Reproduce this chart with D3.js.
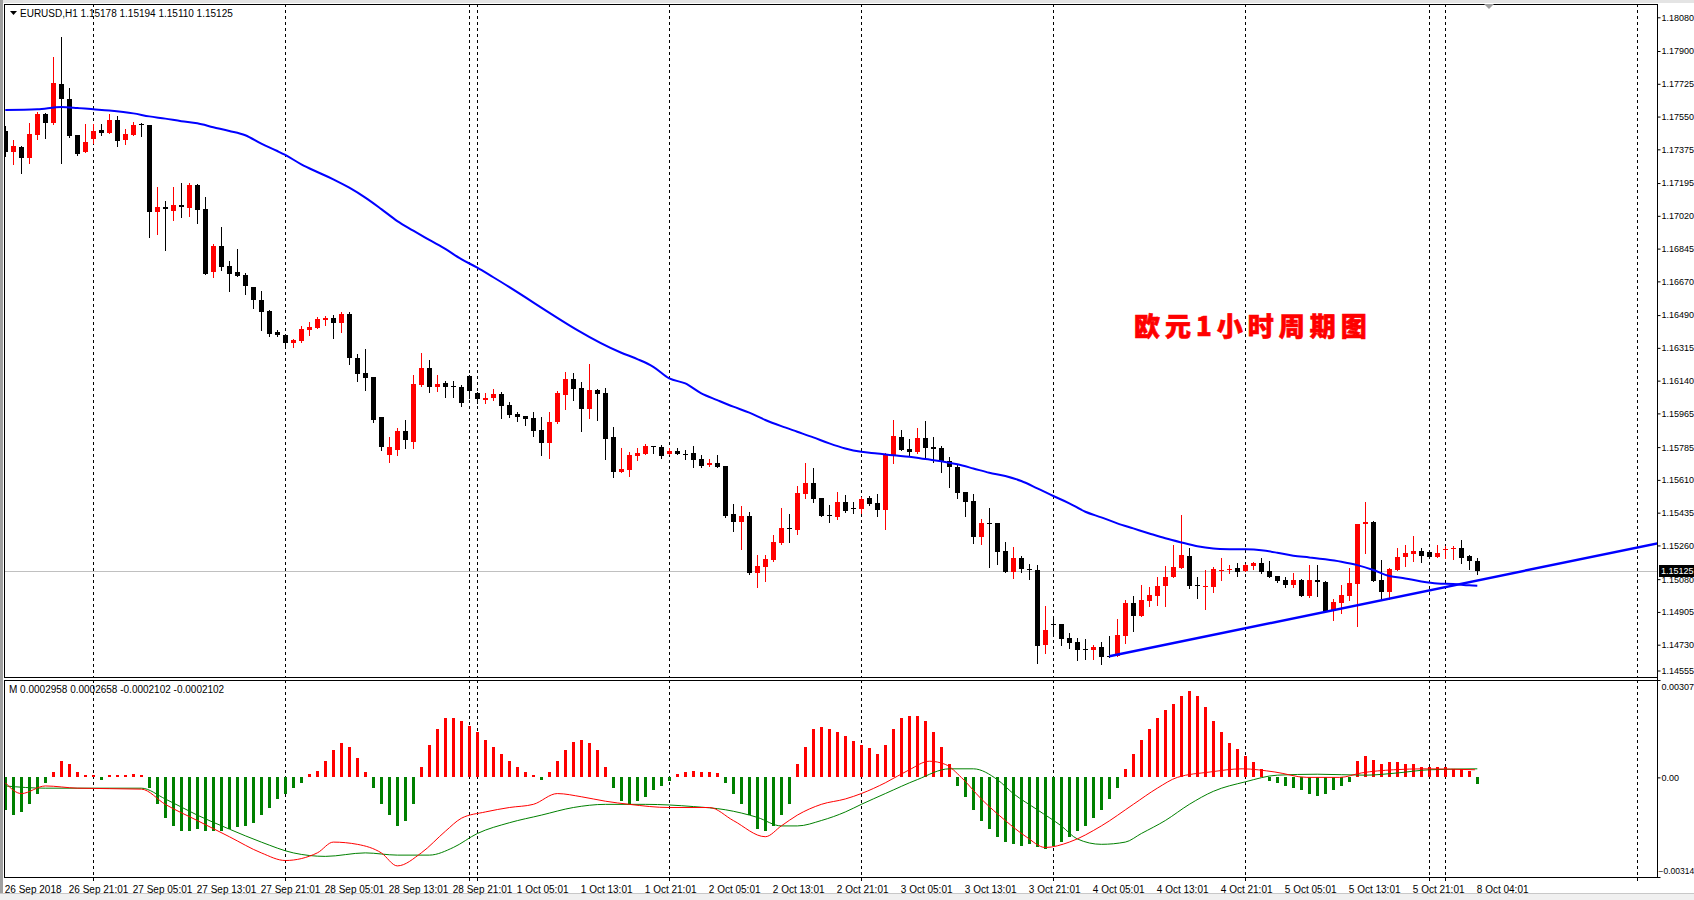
<!DOCTYPE html>
<html>
<head>
<meta charset="utf-8">
<script src="https://cdn.jsdelivr.net/npm/d3@7"></script>
<style>
    body { margin: 0; background: #ffffff; overflow: hidden; }
    svg text { font-family: Tahoma, "Liberation Sans", Arial, sans-serif; }
</style>
</head>
<body>
<script>
// EURUSD H1 bars (bar 0 = 26 Sep 2018 13:01)
var opens = [1.17473,1.17363,1.17388,1.17331,1.17453,1.17564,1.17518,1.17722,1.17644,1.17452,1.17363,1.17432,1.17477,1.17464,1.17532,1.17427,1.17453,1.17509,1.17505,1.17042,
    1.17065,1.17048,1.17078,1.17063,1.17185,1.17056,1.16718,1.16859,1.16752,1.16718,1.16704,1.16640,1.16569,1.16512,1.16398,1.16384,1.16343,1.16353,1.16412,1.16423,
    1.16465,1.16474,1.16449,1.16498,1.16263,1.16181,1.16161,1.15946,1.15743,1.15770,1.15871,1.15814,1.16117,1.16207,1.16108,1.16127,1.16111,1.16106,1.16165,1.16072,
    1.16036,1.16045,1.16067,1.16010,1.15962,1.15949,1.15940,1.15876,1.15809,1.15919,1.16065,1.16148,1.16102,1.15990,1.16090,1.16074,1.15839,1.15654,1.15664,1.15739,
    1.15750,1.15791,1.15787,1.15748,1.15762,1.15750,1.15753,1.15721,1.15689,1.15700,1.15684,1.15428,1.15387,1.15417,1.15114,1.15146,1.15182,1.15273,1.15353,1.15342,
    1.15536,1.15593,1.15513,1.15422,1.15413,1.15492,1.15458,1.15456,1.15515,1.15486,1.15449,1.15741,1.15839,1.15775,1.15759,1.15833,1.15785,1.15780,1.15711,1.15680,
    1.15545,1.15497,1.15303,1.15380,1.15380,1.15230,1.15120,1.15193,1.15134,1.15129,1.14730,1.14838,1.14840,1.14765,1.14744,1.14707,1.14703,1.14717,1.14671,1.14668,
    1.14778,1.14952,1.14885,1.14965,1.14992,1.15045,1.15089,1.15139,1.15203,1.15047,1.15040,1.15040,1.15127,1.15127,1.15139,1.15125,1.15152,1.15164,1.15123,1.15095,
    1.15075,1.15050,1.15075,1.14992,1.15075,1.15063,1.14908,1.14952,1.14990,1.15056,1.15372,1.15387,1.15075,1.15013,1.15127,1.15198,1.15216,1.15228,1.15225,1.15196,
    1.15239,1.15239,1.15244,1.15203,1.15178];
var highs = [1.17501,1.17425,1.17391,1.17516,1.17573,1.17567,1.17868,1.17975,1.17703,1.17452,1.17510,1.17510,1.17510,1.17564,1.17553,1.17484,1.17521,1.17516,1.17505,1.17174,
    1.17099,1.17174,1.17195,1.17195,1.17188,1.17121,1.16870,1.16960,1.16779,1.16843,1.16715,1.16640,1.16619,1.16515,1.16410,1.16388,1.16364,1.16432,1.16455,1.16478,
    1.16487,1.16492,1.16508,1.16508,1.16282,1.16309,1.16161,1.15946,1.15840,1.15887,1.15930,1.16170,1.16288,1.16250,1.16170,1.16138,1.16140,1.16117,1.16170,1.16081,
    1.16076,1.16094,1.16077,1.16024,1.15974,1.15951,1.15972,1.15944,1.15972,1.16083,1.16186,1.16181,1.16132,1.16229,1.16097,1.16100,1.15890,1.15780,1.15759,1.15780,
    1.15800,1.15791,1.15796,1.15778,1.15780,1.15769,1.15793,1.15741,1.15721,1.15741,1.15684,1.15481,1.15470,1.15438,1.15209,1.15209,1.15316,1.15461,1.15428,1.15575,
    1.15700,1.15673,1.15513,1.15476,1.15545,1.15529,1.15492,1.15520,1.15526,1.15533,1.15752,1.15930,1.15876,1.15828,1.15887,1.15924,1.15837,1.15789,1.15730,1.15689,
    1.15545,1.15534,1.15399,1.15460,1.15380,1.15278,1.15250,1.15203,1.15159,1.15154,1.14936,1.14879,1.14840,1.14794,1.14764,1.14762,1.14730,1.14744,1.14778,1.14867,
    1.14968,1.14990,1.15049,1.15040,1.15089,1.15150,1.15262,1.15424,1.15248,1.15091,1.15129,1.15146,1.15191,1.15155,1.15164,1.15161,1.15170,1.15193,1.15177,1.15095,
    1.15089,1.15113,1.15082,1.15154,1.15154,1.15068,1.14976,1.15047,1.15137,1.15374,1.15492,1.15390,1.15182,1.15141,1.15244,1.15262,1.15310,1.15244,1.15235,1.15260,
    1.15259,1.15255,1.15287,1.15207,1.15194];
var lows = [1.17341,1.17295,1.17251,1.17304,1.17432,1.17437,1.17512,1.17304,1.17443,1.17347,1.17363,1.17407,1.17453,1.17464,1.17395,1.17405,1.17453,1.17448,1.16909,1.16921,
    1.16839,1.17000,1.17014,1.17021,1.16984,1.16707,1.16695,1.16731,1.16620,1.16700,1.16604,1.16530,1.16412,1.16380,1.16377,1.16316,1.16322,1.16348,1.16385,1.16423,
    1.16439,1.16369,1.16398,1.16227,1.16140,1.16088,1.15921,1.15770,1.15706,1.15743,1.15780,1.15780,1.16111,1.16081,1.16085,1.16054,1.16054,1.16006,1.16049,1.16022,
    1.16019,1.16036,1.15942,1.15947,1.15926,1.15901,1.15846,1.15744,1.15728,1.15915,1.15990,1.16038,1.15873,1.15942,1.15930,1.15723,1.15627,1.15654,1.15632,1.15714,
    1.15750,1.15755,1.15725,1.15748,1.15750,1.15719,1.15679,1.15680,1.15686,1.15680,1.15413,1.15339,1.15241,1.15109,1.15040,1.15072,1.15178,1.15269,1.15280,1.15323,
    1.15513,1.15494,1.15419,1.15387,1.15403,1.15438,1.15431,1.15431,1.15476,1.15419,1.15348,1.15702,1.15771,1.15743,1.15755,1.15727,1.15705,1.15654,1.15574,1.15515,
    1.15419,1.15274,1.15269,1.15146,1.15161,1.15120,1.15088,1.15116,1.15082,1.14634,1.14687,1.14776,1.14728,1.14714,1.14646,1.14652,1.14655,1.14625,1.14662,1.14668,
    1.14741,1.14805,1.14885,1.14938,1.14942,1.14938,1.15089,1.15139,1.15034,1.14981,1.14919,1.15011,1.15073,1.15113,1.15098,1.15121,1.15134,1.15113,1.15093,1.15066,
    1.15040,1.15040,1.14992,1.14984,1.14992,1.14906,1.14862,1.14901,1.14970,1.14831,1.15221,1.15070,1.14968,1.14974,1.15127,1.15152,1.15177,1.15170,1.15191,1.15196,
    1.15194,1.15189,1.15168,1.15136,1.15110];
var closes = [1.17363,1.17393,1.17331,1.17457,1.17564,1.17518,1.17729,1.17646,1.17448,1.17352,1.17414,1.17473,1.17464,1.17532,1.17421,1.17457,1.17505,1.17507,1.17042,1.17065,
    1.17055,1.17078,1.17065,1.17185,1.17053,1.16711,1.16859,1.16749,1.16711,1.16700,1.16644,1.16569,1.16508,1.16389,1.16382,1.16343,1.16357,1.16416,1.16426,1.16469,
    1.16474,1.16449,1.16498,1.16263,1.16177,1.16156,1.15930,1.15785,1.15785,1.15871,1.15823,1.16122,1.16207,1.16108,1.16122,1.16108,1.16104,1.16022,1.16087,1.16040,
    1.16045,1.16069,1.16006,1.15956,1.15947,1.15937,1.15873,1.15809,1.15919,1.16076,1.16148,1.16097,1.15990,1.16090,1.16067,1.15830,1.15654,1.15668,1.15743,1.15753,
    1.15791,1.15784,1.15739,1.15764,1.15750,1.15746,1.15718,1.15684,1.15700,1.15680,1.15417,1.15387,1.15417,1.15114,1.15150,1.15189,1.15278,1.15353,1.15349,1.15540,
    1.15593,1.15510,1.15419,1.15415,1.15492,1.15446,1.15453,1.15508,1.15481,1.15449,1.15744,1.15844,1.15771,1.15760,1.15833,1.15780,1.15776,1.15705,1.15677,1.15542,
    1.15494,1.15303,1.15380,1.15376,1.15226,1.15120,1.15193,1.15134,1.15129,1.14725,1.14808,1.14833,1.14762,1.14740,1.14703,1.14703,1.14717,1.14666,1.14668,1.14781,
    1.14952,1.14885,1.14968,1.14995,1.15043,1.15091,1.15145,1.15209,1.15043,1.15043,1.15043,1.15132,1.15130,1.15136,1.15120,1.15154,1.15164,1.15120,1.15093,1.15072,
    1.15050,1.15075,1.14992,1.15075,1.15063,1.14906,1.14956,1.14995,1.15059,1.15374,1.15387,1.15070,1.15013,1.15134,1.15196,1.15219,1.15230,1.15205,1.15196,1.15218,
    1.15242,1.15246,1.15194,1.15178,1.15125];

// moving average (blue), sampled at bar indexes
var maIdx = [0,4,7,9,11,13,16,18,20,22,24,26,28,30,32,34,35,37,39,41,43,45,47,49,51,53,55,57,59,61,
    77,79,81,83,85,87,89,91,93,95,97,99,101,103,105,107,109,111,113,115,117,119,121,123,
    125,127,129,131,133,135,137,139,141,143,145,147,149,151,153,155,157,159,161,163,165,167,169,171,173,175,177,179,181,183,184];
var maVals = [1.17585,1.17589,1.17601,1.17596,1.17589,1.17582,1.17567,1.17551,1.17539,1.17525,1.17514,1.17493,1.17473,1.17450,1.17405,1.17366,1.17345,1.17295,1.17254,1.17215,
    1.17170,1.17117,1.17056,1.16992,1.16941,1.16891,1.16843,1.16789,1.16743,1.16692,
    1.16289,1.16255,1.16214,1.16152,1.16125,1.16072,1.16036,1.16001,1.15969,1.15930,1.15897,1.15867,1.15837,1.15805,1.15778,1.15760,1.15751,1.15741,1.15734,1.15721,
    1.15710,1.15693,1.15671,1.15648,
    1.15631,1.15604,1.15565,1.15524,1.15485,1.15440,1.15410,1.15378,1.15351,1.15324,1.15298,1.15276,1.15256,1.15244,1.15240,1.15239,1.15234,1.15221,1.15205,1.15196,
    1.15186,1.15173,1.15155,1.15129,1.15097,1.15084,1.15068,1.15057,1.15054,1.15047,1.15045];

// hand drawn trend line
var trendIdx = [138, 206.6];
var trendVals = [1.14668, 1.15272];

// MACD pane: histogram per bar, and the two signal lines
var macdHist = [-0.00102,-0.00119,-0.00109,-0.00085,-0.00051,-0.00017,0.00017,0.00051,0.00041,0.00017,0.00007,0.00007,-0.00007,0.00007,0.00007,0.00007,0.0001,0.00007,-0.00034,-0.00085,
    -0.00129,-0.00153,-0.0017,-0.0017,-0.00163,-0.0017,-0.0017,-0.0017,-0.00163,-0.00157,-0.00153,-0.00143,-0.00119,-0.00095,-0.00068,-0.00051,-0.00034,-0.00017,0.0001,0.0002,
    0.00051,0.00085,0.00109,0.00095,0.00061,0.00017,-0.00034,-0.00085,-0.00119,-0.00153,-0.00136,-0.00085,0.00034,0.00102,0.00153,0.00187,0.00187,0.00177,0.00163,0.00143,
    0.00119,0.00095,0.00075,0.00051,0.00034,0.00017,0.00007,-0.00007,0.00017,0.00051,0.00085,0.00112,0.00119,0.00109,0.00085,0.00034,-0.00034,-0.00075,-0.00085,-0.00075,
    -0.00061,-0.00041,-0.00027,-0.0001,0.0001,0.00017,0.0002,0.00017,0.00017,0.00014,-0.00017,-0.00051,-0.00085,-0.00119,-0.00163,-0.0017,-0.00153,-0.00119,-0.00085,0.00041,
    0.00095,0.00153,0.0016,0.00153,0.00143,0.00129,0.00116,0.00102,0.00092,0.00075,0.00102,0.00153,0.00187,0.00194,0.00194,0.00177,0.00143,0.00095,0.00041,-0.00027,
    -0.00061,-0.00102,-0.00136,-0.00163,-0.00187,-0.00204,-0.00211,-0.00215,-0.00211,-0.00221,-0.00225,-0.00215,-0.00204,-0.00187,-0.0017,-0.00153,-0.00129,-0.00102,-0.00068,-0.00034,
    0.00027,0.00075,0.00119,0.00153,0.00187,0.00211,0.00232,0.00255,0.00272,0.00255,0.00221,0.00177,0.00143,0.00109,0.00089,0.00068,0.00048,0.00027,-0.0001,-0.00017,
    -0.00027,-0.00034,-0.00041,-0.00051,-0.00058,-0.00051,-0.00041,-0.00027,-0.00014,0.00051,0.00068,0.00054,0.00041,0.00048,0.00048,0.00041,0.00041,0.00034,0.00034,0.00034,
    0.00034,0.00027,0.00027,0.0002,-0.0002];
var redIdx = [0,2,5,9,17,20,24,28,32,35,39,41,44,47,49,52,55,57,60,63,66,69,72,75,78,83,88,91,95,97,99,102,105,107,110,113,115.5,117.5,119.5,122,125,127.6,130,133,137,141,144,146.5,150.6,154.6,158.7,162.7,166.8,169.5,173.5,177.6,183.7];
var redVals = [-0.00017,-0.00051,-0.00027,-0.00034,-0.00037,-0.00085,-0.00136,-0.00187,-0.00238,-0.00262,-0.00238,-0.00204,-0.00211,-0.00238,-0.00279,-0.00238,-0.0017,-0.00129,-0.00109,-0.00095,
    -0.00085,-0.00051,-0.00061,-0.00075,-0.00085,-0.00095,-0.00095,-0.00136,-0.00187,-0.00153,-0.00119,-0.00085,-0.00068,-0.00051,-0.00017,0.00024,0.00051,0.00041,0,-0.00068,
    -0.00136,-0.00187,-0.00221,-0.00204,-0.00153,-0.00085,-0.00034,0,0.00017,0.00027,0.00017,0,0,0.00014,0.00024,0.00027,0.00024];
var greenIdx = [0,5,17,20,24,28,32,36,40,45,49,53,56,59,63,67,71,75,80,86,90,94,97,99,102,105,107,110,114,118,121,124,126,129,132,134,137,140,142,145,148,151,155,159,164,170,174,178,184];
var greenVals = [-0.00027,-0.00034,-0.00034,-0.00068,-0.00119,-0.00163,-0.00204,-0.00238,-0.00249,-0.00238,-0.00245,-0.00245,-0.00221,-0.00177,-0.00143,-0.00119,-0.00095,-0.00085,-0.00085,-0.00092,
    -0.00102,-0.00126,-0.00153,-0.00153,-0.00136,-0.00109,-0.00085,-0.00051,-0.00007,0.00027,0.00027,-0.00007,-0.00051,-0.00102,-0.00153,-0.00194,-0.00211,-0.00204,-0.00177,-0.00136,
    -0.00085,-0.00044,-0.00014,0.00007,0.0001,0.00007,0.00014,0.00024,0.00027];

// axis labels
var priceTicks = [1.18080,1.17900,1.17725,1.17550,1.17375,1.17195,1.17020,1.16845,1.16670,1.16490,1.16315,1.16140,1.15965,1.15785,1.15610,1.15435,1.15260,1.15080,1.14905,1.14730,1.14555];
var macdTicks = [0.00307, 0, -0.00314];
var timeIdx = [0,8,16,24,32,40,48,56,64,72,80,88,96,104,112,120,128,136,144,152,160,168,176,184];
var timeLabels = ["26 Sep 2018","26 Sep 21:01","27 Sep 05:01","27 Sep 13:01","27 Sep 21:01","28 Sep 05:01","28 Sep 13:01","28 Sep 21:01",
    "1 Oct 05:01","1 Oct 13:01","1 Oct 21:01","2 Oct 05:01","2 Oct 13:01","2 Oct 21:01","3 Oct 05:01","3 Oct 13:01","3 Oct 21:01",
    "4 Oct 05:01","4 Oct 13:01","4 Oct 21:01","5 Oct 05:01","5 Oct 13:01","5 Oct 21:01","8 Oct 04:01"];
var gridIdx = [11,35,58,59,83,107,131,155,178,180,204];

var lastBid = 1.15125;

function init() {
    var width = 1694;
    var height = 900;
    var left = 4, right = 1657;
    var mainTop = 4, mainBottom = 677;
    var macdTop = 680, macdBottom = 877;
    var axisFont = "Tahoma, 'Liberation Sans', Arial, sans-serif";

    var svg = d3.select("body").append("svg")
        .attr("width", width)
        .attr("height", height);

    // window frame
    svg.append("rect").attr("x", 0).attr("y", 0).attr("width", width).attr("height", 3).attr("fill", "#e4e4e4");
    svg.append("rect").attr("x", 0).attr("y", 0).attr("width", 3).attr("height", height).attr("fill", "#a0a0a0");
    svg.append("rect").attr("x", 0).attr("y", 893).attr("width", width).attr("height", 7).attr("fill", "#f0f0f0");
    svg.append("line").attr("x1", 0).attr("x2", width).attr("y1", 893.5).attr("y2", 893.5).attr("stroke", "#c8c8c8");

    // scales: one bar every 8 px
    var x = d3.scaleLinear().domain([0, 184]).range([5.3, 1477.3]);
    var y = d3.scaleLinear().domain([1.14730, 1.18080]).range([644.7, 17.3]);
    var my = d3.scaleLinear().domain([-0.00314, 0.00307]).range([macdBottom, macdTop]);

    svg.append("clipPath").attr("id", "mainClip").append("rect")
        .attr("x", left).attr("y", mainTop).attr("width", right - left).attr("height", mainBottom - mainTop);
    svg.append("clipPath").attr("id", "macdClip").append("rect")
        .attr("x", left).attr("y", macdTop).attr("width", right - left).attr("height", macdBottom - macdTop);

    // dashed vertical grid in both panes
    [[mainTop, mainBottom], [macdTop, macdBottom]].forEach(function(p) {
        svg.append("g").selectAll("line")
            .data(gridIdx)
            .enter().append("line")
            .attr("x1", function(d) { return Math.round(x(d)) + 0.5; })
            .attr("x2", function(d) { return Math.round(x(d)) + 0.5; })
            .attr("y1", p[0]).attr("y2", p[1])
            .attr("stroke", "#000").attr("stroke-dasharray", "3,3");
    });
    // small ticks under the lower pane
    svg.append("g").selectAll("line")
        .data(gridIdx)
        .enter().append("line")
        .attr("x1", function(d) { return Math.round(x(d)) + 0.5; })
        .attr("x2", function(d) { return Math.round(x(d)) + 0.5; })
        .attr("y1", macdBottom).attr("y2", macdBottom + 4)
        .attr("stroke", "#000");

    var main = svg.append("g").attr("clip-path", "url(#mainClip)");

    // bid line
    main.append("line")
        .attr("x1", left).attr("x2", right)
        .attr("y1", Math.round(y(lastBid)) + 0.5).attr("y2", Math.round(y(lastBid)) + 0.5)
        .attr("stroke", "#c0c0c0");

    // candles
    var bars = d3.range(opens.length);
    var candle = main.append("g").selectAll("g")
        .data(bars)
        .enter().append("g")
        .attr("fill", function(i) { return closes[i] > opens[i] ? "#ff0000" : "#000000"; })
        .attr("stroke", function(i) { return closes[i] > opens[i] ? "#ff0000" : "#000000"; });

    candle.append("line")
        .attr("x1", function(i) { return Math.round(x(i)) + 0.5; })
        .attr("x2", function(i) { return Math.round(x(i)) + 0.5; })
        .attr("y1", function(i) { return Math.round(y(highs[i])); })
        .attr("y2", function(i) { return Math.round(y(lows[i])) + 1; })
        .attr("stroke-width", 1);

    candle.append("rect")
        .attr("x", function(i) { return Math.round(x(i)) - 2; })
        .attr("y", function(i) { return Math.round(y(Math.max(opens[i], closes[i]))); })
        .attr("width", 5)
        .attr("height", function(i) {
            return Math.max(1, Math.round(y(Math.min(opens[i], closes[i]))) - Math.round(y(Math.max(opens[i], closes[i]))));
        })
        .attr("stroke", "none");

    // moving average
    var maLine = d3.line()
        .x(function(d, k) { return x(maIdx[k]); })
        .y(function(d) { return y(d); })
        .curve(d3.curveMonotoneX);
    main.append("path")
        .attr("d", maLine(maVals))
        .attr("fill", "none")
        .attr("stroke", "#0000ff")
        .attr("stroke-width", 2);

    // trend line
    main.append("line")
        .attr("x1", x(trendIdx[0])).attr("y1", y(trendVals[0]))
        .attr("x2", x(trendIdx[1])).attr("y2", y(trendVals[1]))
        .attr("stroke", "#0000ff")
        .attr("stroke-width", 2.5);

    // chart title text
    svg.append("text")
        .attr("x", 1134).attr("y", 336)
        .attr("fill", "#ff0000")
        .attr("stroke", "#ff0000")
        .attr("stroke-width", 0.6)
        .attr("font-size", "26px")
        .attr("font-weight", 900)
        .attr("letter-spacing", "5px")
        .style("font-family", "'Noto Sans CJK SC', sans-serif")
        .text("欧元1小时周期图");

    // MACD pane
    var macd = svg.append("g").attr("clip-path", "url(#macdClip)");
    macd.append("g").selectAll("rect")
        .data(macdHist)
        .enter().append("rect")
        .attr("x", function(d, i) { return Math.round(x(i)) - 1; })
        .attr("y", function(d) { return Math.round(my(Math.max(0, d))); })
        .attr("width", 3)
        .attr("height", function(d) { return Math.max(1, Math.abs(Math.round(my(d)) - Math.round(my(0)))); })
        .attr("fill", function(d) { return d >= 0 ? "#ff0000" : "#008000"; });

    var redLine = d3.line()
        .x(function(d, k) { return x(redIdx[k]); })
        .y(function(d) { return my(d); })
        .curve(d3.curveMonotoneX);
    var greenLine = d3.line()
        .x(function(d, k) { return x(greenIdx[k]); })
        .y(function(d) { return my(d); })
        .curve(d3.curveMonotoneX);
    macd.append("path").attr("d", greenLine(greenVals))
        .attr("fill", "none").attr("stroke", "#008000").attr("stroke-width", 1);
    macd.append("path").attr("d", redLine(redVals))
        .attr("fill", "none").attr("stroke", "#ff0000").attr("stroke-width", 1);

    // pane borders
    svg.append("rect").attr("x", left + 0.5).attr("y", mainTop + 0.5)
        .attr("width", right - left).attr("height", mainBottom - mainTop)
        .attr("fill", "none").attr("stroke", "#000");
    svg.append("rect").attr("x", left + 0.5).attr("y", macdTop + 0.5)
        .attr("width", right - left).attr("height", macdBottom - macdTop)
        .attr("fill", "none").attr("stroke", "#000");

    // price axis
    var priceAxis = d3.axisRight(y)
        .tickValues(priceTicks)
        .tickSize(3)
        .tickPadding(1)
        .tickFormat(d3.format(".5f"));
    var pa = svg.append("g")
        .attr("transform", "translate(" + (right + 0.5) + ",0)")
        .call(priceAxis);
    pa.select(".domain").remove();
    pa.selectAll("text").attr("font-size", "9px").attr("fill", "#000")
        .style("font-family", axisFont);
    pa.selectAll(".tick").filter(function(d) { return d < 1.1464; })
        .attr("transform", "translate(0," + (mainBottom - 6) + ")");

    // bid label box
    svg.append("rect")
        .attr("x", right + 2).attr("y", Math.round(y(lastBid)) - 6)
        .attr("width", 36).attr("height", 12)
        .attr("fill", "#000");
    svg.append("text")
        .attr("x", right + 4).attr("y", Math.round(y(lastBid)))
        .attr("dy", "0.35em")
        .attr("font-size", "9px")
        .attr("fill", "#fff")
        .style("font-family", axisFont)
        .text(d3.format(".5f")(lastBid));

    // MACD axis
    var macdAxis = d3.axisRight(my)
        .tickValues(macdTicks)
        .tickSize(3)
        .tickPadding(1)
        .tickFormat(function(d) { return d === 0 ? "0.00" : d3.format(".5f")(d); });
    var ma = svg.append("g")
        .attr("transform", "translate(" + (right + 0.5) + ",0)")
        .call(macdAxis);
    ma.select(".domain").remove();
    ma.selectAll("text").attr("font-size", "9px").attr("fill", "#000")
        .style("font-family", axisFont);
    ma.selectAll(".tick").filter(function(d) { return d > 0; }).select("text").attr("dy", "1.0em");
    ma.selectAll(".tick").filter(function(d) { return d < 0; }).select("text")
        .attr("dy", "-0.4em").attr("x", 1).attr("font-size", "8.5px");

    // right axis line
    svg.append("line").attr("x1", right + 0.5).attr("x2", right + 0.5)
        .attr("y1", mainTop).attr("y2", macdBottom + 1)
        .attr("stroke", "#000");

    // time axis
    var timeAxis = d3.axisBottom(x)
        .tickValues(timeIdx)
        .tickSize(0)
        .tickPadding(0)
        .tickFormat(function(d, k) { return timeLabels[k]; });
    var ta = svg.append("g")
        .attr("transform", "translate(0," + (macdBottom + 5) + ")")
        .call(timeAxis);
    ta.select(".domain").remove();
    ta.selectAll("text")
        .attr("text-anchor", "start")
        .attr("x", -1)
        .attr("y", 4)
        .attr("font-size", "10px")
        .attr("fill", "#000")
        .style("font-family", axisFont);

    // pane headers
    svg.append("path").attr("d", "M10,11 L17,11 L13.5,15 Z").attr("fill", "#000");
    svg.append("text").attr("x", 20).attr("y", 17)
        .attr("font-size", "10px").attr("fill", "#000")
        .text("EURUSD,H1  " + [opens[184], highs[184], lows[184], closes[184]].map(d3.format(".5f")).join(" "));
    svg.append("text").attr("x", 9).attr("y", macdTop + 13)
        .attr("font-size", "10px").attr("fill", "#000")
        .text("M 0.0002958 0.0002658 -0.0002102 -0.0002102");

    // chart shift marker
    svg.append("path").attr("d", "M1484,4 L1494,4 L1489,9 Z").attr("fill", "#a0a0a0");
}

window.onload = init;
</script>
</body>
</html>
